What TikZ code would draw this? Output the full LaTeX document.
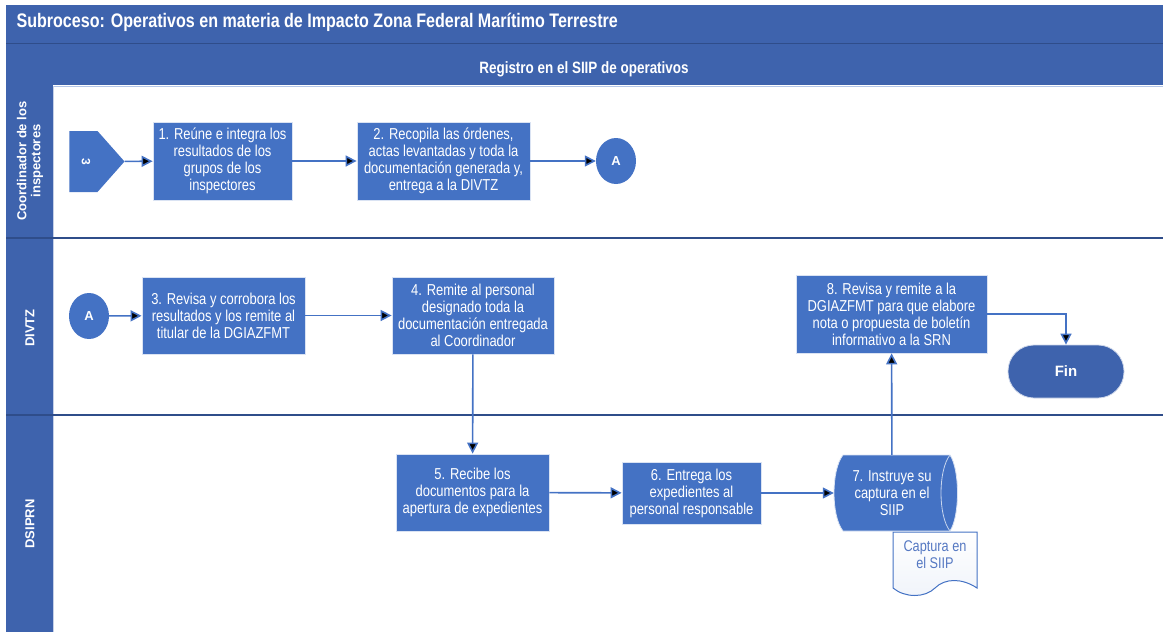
\documentclass[tikz,border=0pt]{standalone}
\usepackage{fontspec}
\setmainfont{Liberation Sans}
\newfontfamily\narrowfont[FakeStretch=0.82]{Liberation Sans}
\usetikzlibrary{arrows.meta,shapes.geometric,shapes.symbols}

\definecolor{boxblue}{HTML}{4472C4}
\definecolor{barblue}{HTML}{3E63AD}
\definecolor{laneline}{HTML}{2F4D8A}
\definecolor{lightline}{HTML}{B4C6E7}
\definecolor{doctext}{HTML}{5578C2}

\tikzset{
  proc/.style={rectangle, fill=boxblue, draw=white!80!boxblue, line width=0.8pt,
    text=white, align=center, inner sep=0pt,
    font=\narrowfont\fontsize{15.8}{17}\selectfont},
  conn/.style={ellipse, fill=boxblue, text=white, inner sep=0pt,
    minimum width=40, minimum height=46, font=\bfseries\fontsize{13}{15}\selectfont},
  lanehead/.style={rotate=90, text=white, align=center,
    font=\bfseries\fontsize{13}{14}\selectfont},
  flow/.style={draw=boxblue, line width=1.6pt, -{Triangle[width=11pt,length=11pt]}},
}

\begin{document}
\begin{tikzpicture}[x=1pt, y=-1pt]
  \useasboundingbox (0,0) rectangle (1163,632);

  % bars and lanes
  \fill[barblue] (6,5) rectangle (1163,85);
  \draw[laneline, line width=1pt] (6,43) -- (1163,43);
  \fill[barblue] (6,85) rectangle (53,632);
  \draw[lightline, line width=1pt] (53,86) -- (1163,86);
  \draw[white!70!barblue, line width=1pt] (53,86) -- (53,632);
  \draw[laneline, line width=1.6pt] (6,238) -- (1163,238);
  \draw[laneline, line width=1.6pt] (6,415) -- (1163,415);

  \node (ttl) [anchor=base west, text=white, font=\narrowfont\bfseries\fontsize{19.6}{21}\selectfont]
    at (13,27) {Subroceso: Operativos en materia de Impacto Zona Federal Marítimo Terrestre};
  \node (sub) [anchor=base, text=white, font=\narrowfont\bfseries\fontsize{16.4}{18}\selectfont]
    at (584,73) {Registro en el SIIP de operativos};

  \node (hcoord) [lanehead] at (30,161) {Coordinador de los\\inspectores};
  \node (hdivtz) [lanehead] at (30,328) {DIVTZ};
  \node (hdsiprn) [lanehead] at (30,524) {DSIPRN};

  % lane 1
  \node (con3) [signal, signal to=east, signal pointer angle=97, fill=boxblue,
    inner sep=0pt, minimum width=55, minimum height=61] at (83.5,161.5) {};
  \node (lbl3) [rotate=-90, text=white, font=\bfseries\fontsize{12}{14}\selectfont]
    at (86,161.5) {3};
  \node (p1) [proc, minimum width=139, minimum height=78] at (222.5,161)
    {1. Reúne e integra los\\resultados de los\\grupos de los\\inspectores};
  \node (p2) [proc, minimum width=173, minimum height=78] at (443.5,161)
    {2. Recopila las órdenes,\\actas levantadas y toda la\\documentación generada y,\\entrega a la DIVTZ};
  \node (conA) [conn] at (616,161) {A};

  % lane 2
  \node (conB) [conn] at (89,316) {A};
  \node (p3) [proc, minimum width=163, minimum height=77] at (223.5,315.5)
    {3. Revisa y corrobora los\\resultados y los remite al\\titular de la DGIAZFMT};
  \node (p4) [proc, minimum width=162, minimum height=77] at (473,315.5)
    {4. Remite al personal\\designado toda la\\documentación entregada\\al Coordinador};
  \node (p8) [proc, minimum width=191, minimum height=78] at (891.5,314)
    {8. Revisa y remite a la\\DGIAZFMT para que elabore\\nota o propuesta de boletín\\informativo a la SRN};
  \node (fin) [rectangle, rounded corners=26pt, fill=barblue, draw=white!75!barblue,
    line width=0.8pt, minimum width=116, minimum height=53, text=white,
    font=\bfseries\fontsize{15}{17}\selectfont] at (1066,371.5) {Fin};

  % lane 3
  \node (p5) [proc, minimum width=153, minimum height=77] at (472.5,492.5)
    {5. Recibe los\\documentos para la\\apertura de expedientes};
  \node (p6) [proc, minimum width=139, minimum height=62] at (691.5,493)
    {6. Entrega los\\expedientes al\\personal responsable};

  \draw[boxblue, line width=1pt, top color=white, bottom color=boxblue!8]
    (893,532) -- (977,532) -- (977,588)
    .. controls (962,578) and (945,578) .. (935,588)
    .. controls (925,598) and (905,598) .. (893,588) -- cycle;
  \node (doc) [align=center, text=doctext, font=\narrowfont\fontsize{15.5}{17}\selectfont]
    at (935,555) {Captura en\\el SIIP};

  \filldraw[fill=boxblue, draw=white!80!boxblue, line width=0.8pt]
    (843,455) -- (950,455) .. controls (960,470) and (960,516) .. (950,531)
    -- (843,531) .. controls (831,516) and (831,470) .. (843,455) -- cycle;
  \draw[white!70!boxblue, line width=0.8pt]
    (950,455) .. controls (938,470) and (938,516) .. (950,531);
  \node (p7) [align=center, text=white, inner sep=0pt, minimum width=116, minimum height=76,
    font=\narrowfont\fontsize{15.8}{17}\selectfont] at (892,493)
    {7. Instruye su\\captura en el\\SIIP};

  \path[flow]
    (con3) edge (p1)
    (p1) edge (p2)
    (p2) edge (conA)
    (conB) edge (p3)
    (p3) edge (p4)
    (p4) edge (p5)
    (p5) edge (p6)
    (p6) edge (p7)
    (p7) edge (p8)
    (p8) edge[to path={-| (\tikztotarget)}] (fin);

\end{tikzpicture}
\end{document}
